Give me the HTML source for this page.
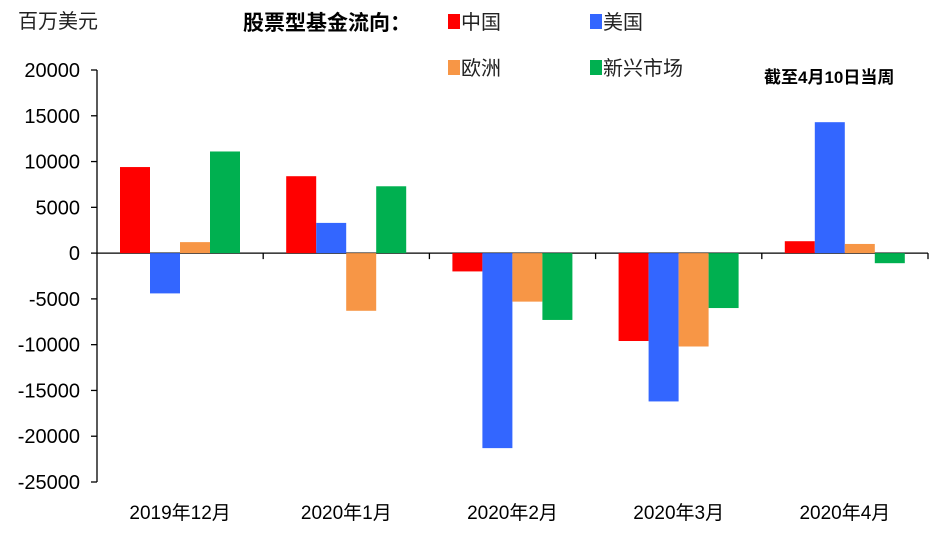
<!DOCTYPE html>
<html><head><meta charset="utf-8"><style>
body{margin:0;background:#fff;}
svg text{font-family:"Liberation Sans","Noto Sans CJK SC",sans-serif;}
</style></head><body>
<svg id="chart" width="942" height="530" viewBox="0 0 942 530" xmlns="http://www.w3.org/2000/svg">
<text x="18" y="28" font-size="20" fill="#222">百万美元</text>
<text x="243" y="30" font-size="21" font-weight="bold" fill="#000">股票型基金流向：</text>
<text x="764" y="83" font-size="17" font-weight="bold" fill="#000">截至4月10日当周</text>
<g id="legend"></g>
<g id="axes"></g>
<g id="bars"></g>
</svg>
<script>
const categories=["2019年12月","2020年1月","2020年2月","2020年3月","2020年4月"];
const seriesNames=["中国","美国","欧洲","新兴市场"];
const china=[9400,8400,-2000,-9600,1300];
const usa=[-4400,3300,-21300,-16200,14300];
const europe=[1200,-6300,-5300,-10200,1000];
const emerging=[11100,7300,-7300,-6000,-1100];
const yTicks=[20000,15000,10000,5000,0,-5000,-10000,-15000,-20000,-25000];

const series=[china,usa,europe,emerging];
const colors=["#FF0000","#3366FF","#F79646","#00B050"];
const NS="http://www.w3.org/2000/svg";
const x0=97,x1=928,yTop=70,yBot=482,vMax=20000,vMin=-25000;
const y=v=>yTop+(vMax-v)/(vMax-vMin)*(yBot-yTop);
const gw=(x1-x0)/categories.length;
const xg=i=>x0+i*gw;
function mk(tag,attrs,parent){const e=document.createElementNS(NS,tag);for(const k in attrs)e.setAttribute(k,attrs[k]);parent.appendChild(e);return e;}
const axes=document.getElementById('axes'),bars=document.getElementById('bars'),legend=document.getElementById('legend');

const ya=mk('line',{x1:x0,x2:x0,y1:yTop,y2:yBot,stroke:'#000','stroke-width':1.3},axes);


yTicks.forEach(t=>{
  const tk=mk('line',{x1:x0-6,x2:x0,y1:y(t),y2:y(t),stroke:'#000','stroke-width':1.3},axes);
  
  
  const tx=mk('text',{x:x0-17,y:y(t)+7,'text-anchor':'end','font-size':20,fill:'#000'},axes);
  tx.textContent=t;
  
  
});
const xa=mk('line',{x1:x0,x2:x1,y1:y(0),y2:y(0),stroke:'#000','stroke-width':1.3},axes);


for(let i=1;i<=categories.length;i++){
  const tk=mk('line',{x1:xg(i),x2:xg(i),y1:y(0),y2:y(0)+6,stroke:'#000','stroke-width':1.3},axes);
  
  
}
categories.forEach((c,i)=>{
  const tx=mk('text',{x:xg(i)+gw/2,y:519,'text-anchor':'middle','font-size':19,fill:'#000'},axes);
  tx.textContent=c;
  
  
});
const bw=30,off=23;
series.forEach((s,si)=>{
  s.forEach((v,i)=>{
    const bx=xg(i)+off+si*bw;
    const r=mk('rect',{x:bx,width:bw,y:Math.min(y(v),y(0)),height:Math.abs(y(v)-y(0)),fill:colors[si]},bars);
    
    
  });
});
const lpos=[[448,14],[590,14],[448,60],[590,60]];
seriesNames.forEach((n,i)=>{
  const g=mk('g',{},legend);
  
  
  mk('rect',{x:lpos[i][0],y:lpos[i][1],width:12,height:15,fill:colors[i]},g);
  const t=mk('text',{x:lpos[i][0]+13,y:lpos[i][1]+15,'font-size':20,fill:'#222'},g);
  t.textContent=n;
});
</script>
</body></html>
